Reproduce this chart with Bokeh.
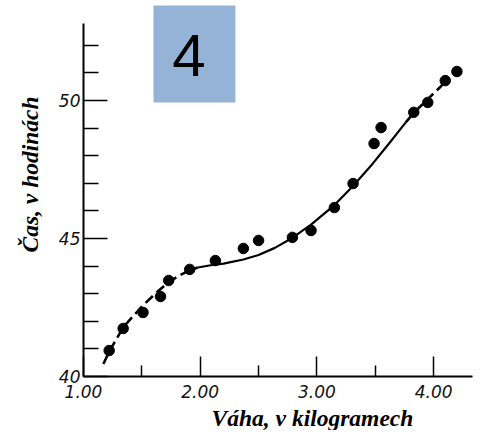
from math import pi
from bokeh.plotting import figure
from bokeh.models import FixedTicker, Label, BoxAnnotation, Range1d
from bokeh.embed import file_html
from bokeh.resources import INLINE

# ---- data ----
weight_kg = [1.22, 1.34, 1.51, 1.66, 1.73, 1.91, 2.13, 2.37, 2.50, 2.79,
             2.95, 3.15, 3.31, 3.49, 3.55, 3.83, 3.95, 4.10, 4.20]
time_h = [40.94, 41.74, 42.32, 42.90, 43.48, 43.88, 44.20, 44.64, 44.93, 45.04,
          45.29, 46.12, 46.99, 48.44, 49.02, 49.57, 49.93, 50.72, 51.05]

# drawn trend curve (dashed / solid / dashed parts)
curve_low_x = [1.17, 1.22, 1.34, 1.45, 1.51, 1.62, 1.73, 1.83, 1.91, 1.98]
curve_low_y = [40.45, 40.90, 41.78, 42.30, 42.58, 43.02, 43.42, 43.68, 43.85, 43.95]
curve_mid_x = [1.98, 2.09, 2.20, 2.37, 2.50, 2.64, 2.77, 2.95, 3.14, 3.31,
               3.48, 3.62, 3.76]
curve_mid_y = [43.95, 44.03, 44.09, 44.24, 44.40, 44.66, 44.97, 45.50, 46.17, 46.90,
               47.72, 48.45, 49.20]
curve_high_x = [3.76, 3.83, 3.95, 4.06, 4.10]
curve_high_y = [49.20, 49.55, 50.05, 50.50, 50.68]

x_ticks = [1.0, 2.0, 3.0, 4.0]
x_tick_labels = ["1.00", "2.00", "3.00", "4.00"]
x_minor = [1.5, 2.5, 3.5]
y_ticks = [40, 45, 50]
y_tick_labels = ["40", "45", "50"]
y_minor = [41, 42, 43, 44, 46, 47, 48, 49, 51, 52]

x_title = "Váha, v kilogramech"
y_title = "Čas, v hodinách"
slide_number = "4"

# ---- figure: frame fills the canvas, axes placed at fixed locations ----
p = figure(width=480, height=430,
           x_range=Range1d(0.2888, 4.402), y_range=Range1d(38.043, 53.623),
           output_backend="svg", toolbar_location=None,
           min_border_left=0, min_border_right=0,
           min_border_top=0, min_border_bottom=0)
p.outline_line_color = None
p.grid.visible = False
p.background_fill_color = "white"
p.border_fill_color = "white"

# slide number box
p.add_layout(BoxAnnotation(left=1.600, right=2.302, bottom=49.93, top=53.44,
                           fill_color="#95B3D7", fill_alpha=1.0, line_color=None))
p.add_layout(Label(x=1.904, y=51.63, text=slide_number, text_align="center",
                   text_baseline="middle", text_font="Liberation Sans",
                   text_font_size="60px", text_color="black"))

# trend curve
p.line(curve_low_x, curve_low_y, line_color="black", line_width=2.6,
       line_dash="10 5", line_join="round")
p.line(curve_mid_x, curve_mid_y, line_color="black", line_width=2.2,
       line_join="round")
p.line(curve_high_x, curve_high_y, line_color="black", line_width=2.6,
       line_dash="10 5", line_join="round")

p.scatter(weight_kg, time_h, size=10.5, fill_color="black", line_color="black")

# axes
for ax in (p.xaxis, p.yaxis):
    ax.axis_line_width = 2
    ax.axis_line_color = "black"
    ax.major_tick_line_width = 1.5
    ax.minor_tick_line_width = 1.5
    ax.major_tick_out = 0
    ax.minor_tick_out = 0
    ax.major_label_text_font = "DejaVu Sans"
    ax.major_label_text_font_style = "italic"
    ax.major_label_text_font_size = "17px"
    ax.major_label_text_color = "#111111"

p.xaxis.fixed_location = 40
p.xaxis.ticker = FixedTicker(ticks=x_ticks, minor_ticks=x_minor)
p.xaxis.major_label_overrides = {t: s for t, s in zip(x_ticks, x_tick_labels)}
p.xaxis.major_tick_in = 20
p.xaxis.minor_tick_in = 11
p.xaxis.bounds = (1.0, 4.33)
p.xaxis.major_label_standoff = 9

p.yaxis.fixed_location = 1.0
p.yaxis.ticker = FixedTicker(ticks=y_ticks, minor_ticks=y_minor)
p.yaxis.major_label_overrides = {t: s for t, s in zip(y_ticks, y_tick_labels)}
p.yaxis.major_tick_in = 24
p.yaxis.minor_tick_in = 15
p.yaxis.bounds = (40, 52.8)
p.yaxis.major_label_standoff = 3

# axis titles
p.add_layout(Label(x=2.962, y=38.478, text=x_title, text_align="center",
                   text_baseline="middle", text_font="Liberation Serif",
                   text_font_style="bold italic", text_font_size="23.5px",
                   text_color="black"))
p.add_layout(Label(x=0.545, y=47.32, text=y_title, angle=pi / 2,
                   text_align="center", text_baseline="middle",
                   text_font="Liberation Serif", text_font_style="bold italic",
                   text_font_size="23.5px", text_color="black"))

open("out.html", "w").write(file_html(p, INLINE))
